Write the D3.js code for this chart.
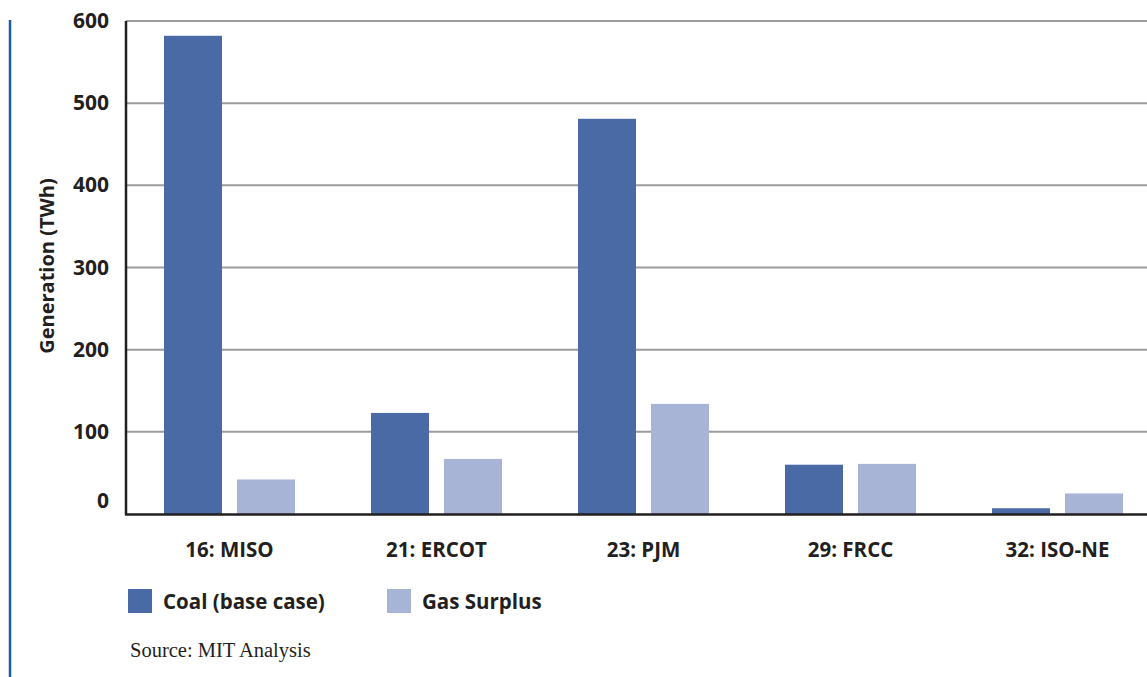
<!DOCTYPE html>
<html>
<head>
<meta charset="utf-8">
<script src="https://cdn.jsdelivr.net/npm/d3@7"></script>
<style>
  body { margin: 0; background: #fff; }
  svg { display: block; }
  .lbl { font-family: "Open Sans", Lato, sans-serif; font-weight: 700; fill: #231f20; }
</style>
</head>
<body>
<div id="plotarea"></div>
<script>
// regions and generation (TWh)
var regions = ['16: MISO', '21: ERCOT', '23: PJM', '29: FRCC', '32: ISO-NE'];
var coal = [582, 123, 481, 60, 7];
var gasSurplus = [42, 67, 134, 61, 25];
var yTicks = [0, 100, 200, 300, 400, 500, 600];
var seriesNames = ['Coal (base case)', 'Gas Surplus'];
var seriesColors = ['#4a6aa5', '#a7b4d6'];

var W = 1147, H = 677;

var svg = d3.select('#plotarea').append('svg')
  .attr('width', W)
  .attr('height', H);

// left blue rule
svg.append('line')
  .attr('x1', 10).attr('x2', 10)
  .attr('y1', 20).attr('y2', H)
  .attr('stroke', '#1f5ca6')
  .attr('stroke-width', 2.5);

var x = d3.scaleBand().domain(regions).range([126, 1161]);
var y = d3.scaleLinear().domain([0, 600]).range([514, 21]);

var barW = 58, gap = 15;

// gridlines
svg.append('g').selectAll('line')
  .data(yTicks.filter(function(d){ return d > 0; }))
  .enter().append('line')
  .attr('x1', 126).attr('x2', W)
  .attr('y1', function(d){ return y(d); })
  .attr('y2', function(d){ return y(d); })
  .attr('stroke', '#9c9c9e')
  .attr('stroke-width', 2);

// bars
var groups = svg.append('g').selectAll('g')
  .data(regions)
  .enter().append('g');

groups.append('rect')
  .attr('x', function(d){ return x(d) + x.bandwidth()/2 - gap/2 - barW; })
  .attr('y', function(d, i){ return y(coal[i]); })
  .attr('width', barW)
  .attr('height', function(d, i){ return y(0) - y(coal[i]); })
  .attr('fill', seriesColors[0]);

groups.append('rect')
  .attr('x', function(d){ return x(d) + x.bandwidth()/2 + gap/2; })
  .attr('y', function(d, i){ return y(gasSurplus[i]); })
  .attr('width', barW)
  .attr('height', function(d, i){ return y(0) - y(gasSurplus[i]); })
  .attr('fill', seriesColors[1]);

// axis lines
svg.append('line')
  .attr('x1', 126).attr('x2', 126)
  .attr('y1', 21).attr('y2', 515)
  .attr('stroke', '#231f20').attr('stroke-width', 2.5);
svg.append('line')
  .attr('x1', 125).attr('x2', W)
  .attr('y1', 514.5).attr('y2', 514.5)
  .attr('stroke', '#231f20').attr('stroke-width', 2.5);

// y tick labels (the 0 sits a bit above the baseline in the original)
svg.append('g').selectAll('text')
  .data(yTicks)
  .enter().append('text')
  .attr('class', 'lbl')
  .attr('x', 109)
  .attr('y', function(d){ return d === 0 ? y(d) - 6 : y(d) + 7; })
  .attr('text-anchor', 'end')
  .attr('font-size', 21)
  .text(function(d){ return d; });

// x labels
svg.append('g').selectAll('text')
  .data(regions)
  .enter().append('text')
  .attr('class', 'lbl')
  .attr('x', function(d){ return x(d) + x.bandwidth()/2; })
  .attr('y', 557)
  .attr('text-anchor', 'middle')
  .attr('font-size', 20.5)
  .text(function(d){ return d; });

// y title
svg.append('text')
  .attr('class', 'lbl')
  .attr('transform', 'translate(54,266) rotate(-90)')
  .attr('text-anchor', 'middle')
  .attr('font-size', 20)
  .text('Generation (TWh)');

// legend
var legX = [128, 387];
var leg = svg.append('g').selectAll('g')
  .data(seriesNames)
  .enter().append('g')
  .attr('transform', function(d, i){ return 'translate(' + legX[i] + ',589)'; });
leg.append('rect')
  .attr('width', 24).attr('height', 24)
  .attr('fill', function(d, i){ return seriesColors[i]; });
leg.append('text')
  .attr('class', 'lbl')
  .attr('x', 35).attr('y', 20)
  .attr('font-size', 20.5)
  .text(function(d){ return d; });

// source
svg.append('text')
  .attr('x', 130).attr('y', 657)
  .attr('font-family', '"Liberation Serif", "DejaVu Serif", serif')
  .attr('font-size', 20.5)
  .attr('fill', '#231f20')
  .text('Source: MIT Analysis');
</script>
</body>
</html>
